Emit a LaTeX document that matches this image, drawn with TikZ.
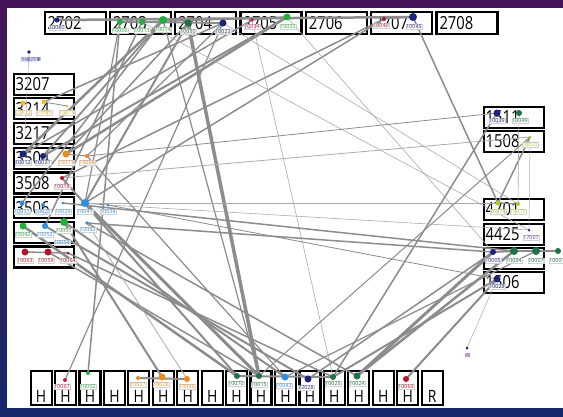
\documentclass[tikz,border=0pt]{standalone}
\usepackage{fontspec}
\usepackage{graphicx}
\setmainfont{Open Sans}
\newfontfamily\cjkf{Noto Sans CJK TC}
\definecolor{bgpurp}{HTML}{461358}
\definecolor{bgnavy}{HTML}{17296A}
\definecolor{navyd}{HTML}{1A237E}
\definecolor{grn}{HTML}{22B03A}
\definecolor{dgrn}{HTML}{1E7045}
\definecolor{mag}{HTML}{C2185B}
\definecolor{crim}{HTML}{B0162A}
\definecolor{org}{HTML}{EE8A1A}
\definecolor{yel}{HTML}{F0C030}
\definecolor{ygr}{HTML}{B2C62A}
\definecolor{lblu}{HTML}{2C8FE0}
\definecolor{purp}{HTML}{5E2A84}
\definecolor{egray}{HTML}{8C8C8C}
\definecolor{egrayl}{HTML}{ABABAB}
\newcommand{\nar}[1]{\scalebox{0.82}[1]{#1}}
\newcommand{\pd}[3]{\fill[#3] (#1) circle (#2);}
\newcommand{\pl}[5]{\node[lbl,text=#4] (#1) at (#2,#3) {#5};}
\tikzset{
  frame/.style={draw=black, line width=2.2pt, fill=white, inner sep=0pt, anchor=north west},
  topbox/.style={frame, minimum width=61pt, minimum height=22pt},
  sidebox/.style={frame, minimum width=60pt, minimum height=21pt},
  hbox/.style={frame, minimum width=21pt, minimum height=34pt},
  bignum/.style={font=\fontsize{18}{18}\selectfont, inner sep=0pt, anchor=west},
  hlet/.style={font=\fontsize{17}{17}\selectfont, inner sep=0pt, anchor=south},
  lbl/.style={font=\fontsize{5.3}{5.3}\selectfont, fill=white, fill opacity=0.85, text opacity=1, draw=black!18, line width=0.3pt, inner sep=0.5pt},
  cx/.style={draw=egray, line width=#1, line cap=round},
  cxl/.style={draw=egrayl, line width=#1, line cap=round}
}
\begin{document}
\begin{tikzpicture}[x=1pt,y=-1pt]
\useasboundingbox (0,0) rectangle (563,416);
\shade[top color=bgpurp, bottom color=bgnavy] (0,0) rectangle (563,416);
\fill[white] (7,8) rectangle (563,408);

% ---------- boxes ----------
\foreach \lab [count=\i from 0] in {2702,2703,2704,2705,2706,2707,2708}{
  \node[topbox] (tb\i) at (43.5+65.3*\i,10.5) {};
  \node[bignum] (tbt\i) at ([xshift=4pt]tb\i.west) {\nar{\lab}};
}
\foreach \lab [count=\i from 0] in {3207,3214,3217,3504,3508,3506,{},{}}{
  \node[sidebox] (lb\i) at (12.5,72.5+24.7*\i) {};
  \node[bignum] (lbt\i) at ([xshift=3pt]lb\i.west) {\nar{\lab}};
}
\foreach \lab/\yy [count=\i from 0] in {1511/105.5,1508/129.5,4701/197.5,4425/222.5,{}/246.5,1506/270.5}{
  \node[sidebox] (rb\i) at (482.5,\yy) {};
  \node[bignum] (rbt\i) at ([xshift=3pt]rb\i.west) {\nar{\lab}};
}
\foreach \lab [count=\i from 0] in {H,H,H,H,H,H,H,H,H,H,H,H,H,H,H,H,R}{
  \node[hbox] (hb\i) at (29.5+24.44*\i,369.5) {};
  \node[hlet] (hbt\i) at ([yshift=3pt]hb\i.south) {\nar{\lab}};
}

% ---------- points ----------
\coordinate (t60) at (57,20);  \coordinate (t06) at (120,22); \coordinate (t13) at (142,22);
\coordinate (t14) at (163,20); \coordinate (t30) at (188,23); \coordinate (t23) at (223,23);
\coordinate (t34) at (252,20); \coordinate (t32) at (287,17); \coordinate (t40) at (384,19);
\coordinate (t45) at (413,17); \coordinate (cn) at (29,52);   \coordinate (cnend) at (25,132);
\coordinate (l72) at (23,103); \coordinate (l46) at (44,102); \coordinate (l78) at (67,106);
\coordinate (l12) at (23,154); \coordinate (l21) at (43,156); \coordinate (l73) at (66,154);
\coordinate (l66) at (87,156); \coordinate (l18) at (62,178); \coordinate (l31) at (22,203);
\coordinate (l20) at (43,205); \coordinate (l29) at (63,203); \coordinate (l41) at (85,203);
\coordinate (l38) at (108,205);\coordinate (l42) at (23,226); \coordinate (l52) at (45,226);
\coordinate (l51) at (64,222); \coordinate (l53) at (87,223); \coordinate (l63) at (25,252);
\coordinate (l59) at (48,252); \coordinate (l64) at (68,253);
\coordinate (r39) at (497,113);\coordinate (r49) at (519,113);\coordinate (r20) at (530,137);
\coordinate (r74) at (498,203);\coordinate (r72) at (518,204);\coordinate (r17) at (529,230);
\coordinate (r05) at (493,252);\coordinate (r04) at (514,251);\coordinate (r07) at (536,251);
\coordinate (r0x) at (558,251);\coordinate (r28) at (497,279);\coordinate (iso) at (467,348);
\coordinate (b67) at (65,380); \coordinate (b02) at (88,373); \coordinate (b27) at (138,378);
\coordinate (b26) at (162,377);\coordinate (b36) at (187,379);\coordinate (b70) at (237,376);
\coordinate (b15) at (259,376);\coordinate (b43) at (285,377);\coordinate (b28) at (308,379);
\coordinate (b25) at (333,377);\coordinate (b24) at (357,376);\coordinate (b69) at (406,379);

% ---------- connectors ----------
\draw[cx=2.5pt] (t60) -- (t45);
\draw[cx=1.8pt] (t06) -- (t23);
\draw[cx=1.5pt] (t13) -- (t32);
\draw[cx=1.2pt] (t40) -- (t45);
\draw[cx=1.2pt] (t34) -- (t32);
% top to left
\draw[cx=2.5pt] (t14) -- (l12);
\draw[cx=1.8pt] (t14) -- (l21);
\draw[cx=2.5pt] (t32) -- (l73);
\draw[cx=2pt] (t32) -- (l21);
\draw[cx=1.5pt] (t34) -- (l12);
\draw[cx=1.5pt] (t23) -- (l46);
\draw[cx=2pt] (t30) -- (l41);
\draw[cx=1.2pt] (t06) -- (l41);
\draw[cx=1.5pt] (t13) -- (l52);
\draw[cx=1.5pt] (t40) -- (l41);
\draw[cx=1.5pt] (t40) -- (l18);
\draw[cx=1.5pt] (t14) -- (l31);
\draw[cx=1.2pt] (t23) -- (l66);
\draw[cx=1.5pt] (t30) -- (l73);
\draw[cxl=0.5pt] (cn) -- (cnend);
% top to bottom
\draw[cx=3.5pt] (t30) -- (b15);
\draw[cx=1.5pt] (t06) -- (b02);
\draw[cx=1.2pt] (t23) -- (b67);
\draw[cx=1.2pt] (t14) -- (b15);
\draw[cxl=0.6pt] (t34) -- (b25);
% top to right
\draw[cx=1.5pt] (t45) -- (r74);
\draw[cxl=0.6pt] (t23) -- (r72);
\draw[cxl=0.6pt] (t13) -- (r17);
\draw[cxl=0.6pt] (t32) -- (r05);
% left internal
\draw[cx=0.8pt] (l46) -- (l78);
\draw[cx=1pt] (l73) -- (l66);
\draw[cx=1.5pt] (l63) -- (l64);
\draw[cx=0.8pt] (l41) -- (l38);
% left to bottom
\draw[cx=3pt] (l41) -- (b15);
\draw[cx=2.5pt] (l42) -- (b70);
\draw[cx=2pt] (l51) -- (b43);
\draw[cx=2pt] (l52) -- (b28);
\draw[cx=1.5pt] (l59) -- (b15);
\draw[cx=2pt] (l18) -- (b70);
\draw[cx=1.5pt] (l64) -- (b25);
\draw[cx=1.2pt] (l66) -- (b43);
\draw[cx=1.5pt] (l53) -- (b24);
\draw[cx=2pt] (l51) -- (b26);
\draw[cxl=0.8pt] (l53) -- (b36);
% left to right
\draw[cxl=0.6pt] (l41) -- (r74);
\draw[cxl=0.6pt] (l38) -- (r17);
\draw[cx=1.5pt] (l53) -- (r05);
\draw[cx=1.5pt] (l29) -- (r04);
\draw[cx=0.8pt] (l66) -- (r39);
\draw[cx=0.8pt] (l38) -- (r28);
\draw[cxl=0.8pt] (l18) -- (r20);
% right internal
\draw[cx=1.2pt] (r74) -- (r72);
\draw[cx=2pt] (r05) -- (r04);
\draw[cx=2pt] (r04) -- (r07);
\draw[cx=2pt] (r07) -- (r0x);
\draw[cx=1.5pt] (r20) -- (r74);
\draw[cxl=0.6pt] (r49) -- (r72);
\draw[cxl=0.5pt] (r20) -- (r17);
% right to bottom
\draw[cx=3pt] (r05) -- (b24);
\draw[cx=2.5pt] (r04) -- (b24);
\draw[cx=2pt] (r28) -- (b25);
\draw[cx=2pt] (r28) -- (b69);
\draw[cx=1.5pt] (r05) -- (b28);
\draw[cx=1.5pt] (r39) -- (b25);
\draw[cx=1pt] (r20) -- (b15);
\draw[cx=1.2pt] (r07) -- (b43);
\draw[cxl=0.5pt] (r28) -- (iso);
% bottom internal
\draw[cx=2pt] (b27) -- (b36);
\draw[cx=2pt] (b70) -- (b25);

% ---------- dots ----------
\pd{t60}{2.5}{navyd} \pd{t06}{3}{grn} \pd{t13}{3}{grn} \pd{t14}{4}{grn}
\pd{t30}{3.5}{dgrn} \pd{t23}{3.5}{navyd} \pd{t34}{1.8}{mag} \pd{t32}{3.5}{grn}
\pd{t40}{2}{crim} \pd{t45}{4}{navyd} \pd{cn}{1.8}{navyd}
\pd{l72}{2.5}{yel} \pd{l46}{2.5}{yel} \pd{l78}{1.5}{yel}
\pd{l12}{3.5}{navyd} \pd{l21}{3}{navyd} \pd{l73}{3.5}{org} \pd{l66}{2}{org}
\pd{l18}{2}{crim} \pd{l31}{2.5}{lblu} \pd{l20}{2}{lblu} \pd{l29}{1.5}{lblu}
\pd{l41}{4}{lblu} \pd{l38}{1.5}{lblu} \pd{l42}{3.5}{grn} \pd{l52}{3}{lblu}
\pd{l51}{4}{grn} \pd{l53}{1.8}{lblu} \pd{l63}{3.5}{crim} \pd{l59}{3.5}{crim} \pd{l64}{1.5}{crim}
\pd{r39}{3.5}{navyd} \pd{r49}{3}{dgrn} \pd{r20}{1.5}{ygr} \pd{r74}{2.5}{ygr}
\pd{r72}{2}{ygr} \pd{r17}{1.5}{purp} \pd{r05}{3}{navyd} \pd{r04}{4}{dgrn}
\pd{r07}{4}{dgrn} \pd{r0x}{3}{dgrn} \pd{r28}{3.5}{navyd} \pd{iso}{1.5}{navyd}
\pd{b67}{2}{mag} \pd{b02}{2}{grn} \pd{b27}{2}{org} \pd{b26}{3.5}{org} \pd{b36}{3}{org}
\pd{b70}{3}{dgrn} \pd{b15}{3}{dgrn} \pd{b43}{3.5}{lblu} \pd{b28}{3.5}{navyd}
\pd{b25}{3}{dgrn} \pd{b24}{3.5}{dgrn} \pd{b69}{3}{crim}
\fill[purp!45] (465,353) rectangle (470,357);

% ---------- labels ----------
\node[font=\cjkf\fontsize{5}{5}\selectfont, text=navyd, inner sep=0pt] (cnl) at (31,60) {別紙同單};
\pl{lt60}{57}{28}{navyd}{10060}
\pl{lt06}{120}{31}{grn}{10006}
\pl{lt13}{142}{31}{grn}{10013}
\pl{lt14}{163}{30}{grn}{10014}
\pl{lt30}{188}{32}{dgrn}{10030}
\pl{lt23}{223}{32}{navyd}{10023}
\pl{lt34}{252}{27}{mag}{10034}
\pl{lt32}{288}{27}{grn}{10032}
\pl{lt40}{381}{26}{crim}{10040}
\pl{lt45}{414}{27}{navyd}{10045}
\pl{ll72}{23}{113}{yel}{10072}
\pl{ll46}{44}{113}{yel}{10046}
\pl{ll78}{67}{113}{yel}{10078}
\pl{ll12}{23}{163}{navyd}{10012}
\pl{ll21}{43}{163}{navyd}{10021}
\pl{ll73}{66}{163}{org}{10073}
\pl{ll66}{87}{163}{org}{10066}
\pl{ll18}{62}{187}{crim}{10018}
\pl{ll31}{22}{212}{lblu}{10031}
\pl{ll20}{43}{212}{lblu}{10020}
\pl{ll29}{63}{212}{lblu}{10029}
\pl{ll41}{85}{212}{lblu}{10041}
\pl{ll38}{108}{212}{lblu}{10038}
\pl{ll42}{23}{235}{grn}{10042}
\pl{ll52}{45}{235}{lblu}{10052}
\pl{ll51}{64}{231}{grn}{10051}
\pl{ll53}{88}{230}{lblu}{10053}
\pl{ll54}{62}{243}{lblu}{10054}
\pl{ll63}{25}{261}{crim}{10063}
\pl{ll59}{46}{261}{crim}{10059}
\pl{ll64}{68}{261}{crim}{10064}
\pl{lr39}{497}{121}{navyd}{10039}
\pl{lr49}{520}{121}{dgrn}{10049}
\pl{lr20}{530}{145}{ygr}{10020}
\pl{lr74}{498}{212}{ygr}{10074}
\pl{lr72}{518}{212}{ygr}{10072}
\pl{lr17}{531}{238}{purp}{17007}
\pl{lr05}{493}{261}{navyd}{10005}
\pl{lr04}{514}{261}{dgrn}{10004}
\pl{lr07}{536}{261}{dgrn}{10007}
\pl{lr0x}{557}{261}{dgrn}{10001}
\pl{lr28}{497}{287}{navyd}{10028}
\pl{lb67}{62}{387}{mag}{10067}
\pl{lb02}{88}{387}{grn}{10002}
\pl{lb27}{138}{385}{org}{10027}
\pl{lb26}{161}{385}{org}{10026}
\pl{lb36}{187}{387}{org}{10036}
\pl{lb70}{236}{384}{dgrn}{10070}
\pl{lb15}{259}{385}{dgrn}{10015}
\pl{lb43}{284}{386}{lblu}{10043}
\pl{lb28}{306}{388}{navyd}{72028}
\pl{lb25}{333}{384}{dgrn}{10025}
\pl{lb24}{357}{384}{dgrn}{10024}
\pl{lb69}{406}{387}{crim}{10069}
\end{tikzpicture}
\end{document}
